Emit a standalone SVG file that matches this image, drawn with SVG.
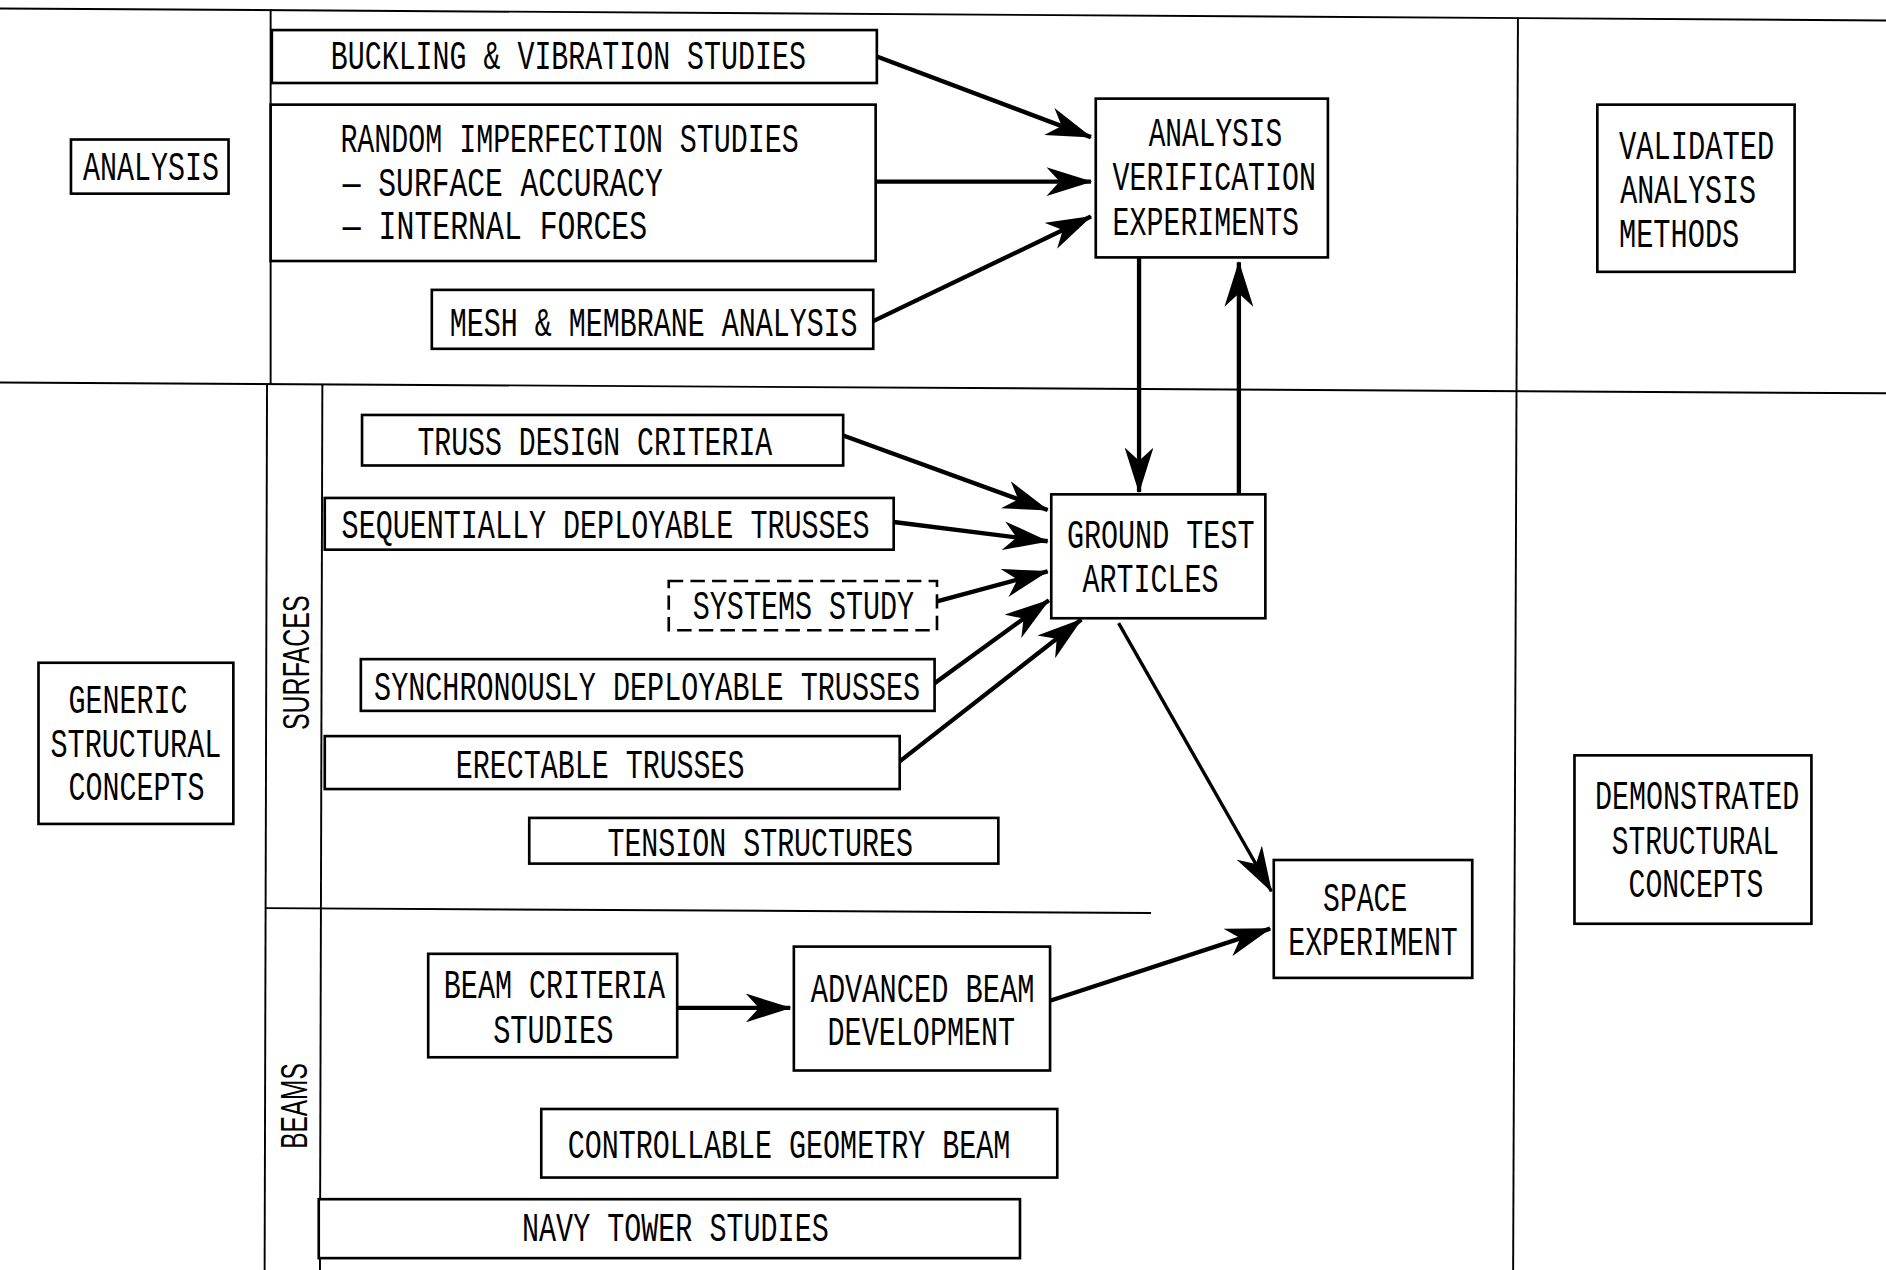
<svg xmlns="http://www.w3.org/2000/svg" width="1886" height="1270" viewBox="0 0 1886 1270">
<style>
.frame{stroke:#000;stroke-width:1.6;fill:none}
.box{stroke:#000;stroke-width:2.2;fill:#fff}
.dash{stroke:#000;stroke-width:2.2;fill:#fff;stroke-dasharray:12 6}
.t{font-family:"Liberation Mono","DejaVu Sans Mono",monospace;font-size:34px;fill:#000}
.r{font-family:"Liberation Sans","DejaVu Sans",sans-serif;font-size:30px;fill:#000}
.a{stroke:#000;stroke-width:3.6;fill:none;marker-end:url(#ah)}
.a2{stroke:#000;stroke-width:2.8;fill:none;marker-end:url(#ah)}
</style>
<defs>
<marker id="ah" markerUnits="userSpaceOnUse" viewBox="0 0 38 24" refX="37" refY="12" markerWidth="38" markerHeight="24" orient="auto">
<path d="M0,0 L38,12 L0,24 L11,12 Z" fill="#000"/>
</marker>
</defs>
<rect width="1886" height="1270" fill="#fff"/>
<g transform="scale(1.20281)">
<g id="frame">
<line class="frame" x1="0" y1="7" x2="1568" y2="17"/>
<line class="frame" x1="0" y1="318" x2="1568" y2="327"/>
<line class="frame" x1="225" y1="8" x2="225" y2="320"/>
<line class="frame" x1="222" y1="320" x2="220" y2="1056"/>
<line class="frame" x1="268" y1="320" x2="266" y2="1056"/>
<line class="frame" x1="1262" y1="15" x2="1258" y2="1056"/>
<line class="frame" x1="221" y1="755" x2="957" y2="759"/>
<text class="r" transform="translate(257,607) rotate(-90)" textLength="112" lengthAdjust="spacingAndGlyphs">SURFACES</text>
<text class="r" transform="translate(255,955) rotate(-90)" textLength="71" lengthAdjust="spacingAndGlyphs">BEAMS</text>
</g>
<g id="n-analysis">
<rect class="box" x="59" y="116" width="131" height="45"/>
<text class="t" x="69" y="150" textLength="113" lengthAdjust="spacingAndGlyphs">ANALYSIS</text>
</g>
<g id="n-buckling">
<rect class="box" x="226" y="25" width="503" height="44"/>
<text class="t" x="275" y="57" textLength="395" lengthAdjust="spacingAndGlyphs">BUCKLING &amp; VIBRATION STUDIES</text>
</g>
<g id="n-random">
<rect class="box" x="225" y="87" width="503" height="130"/>
<text class="t" x="283" y="126" textLength="381" lengthAdjust="spacingAndGlyphs">RANDOM IMPERFECTION STUDIES</text>
<text class="t" x="285" y="163" textLength="266" lengthAdjust="spacingAndGlyphs">— SURFACE ACCURACY</text>
<text class="t" x="285" y="199" textLength="253" lengthAdjust="spacingAndGlyphs">— INTERNAL FORCES</text>
</g>
<g id="n-mesh">
<rect class="box" x="359" y="241" width="367" height="49"/>
<text class="t" x="374" y="279" textLength="339" lengthAdjust="spacingAndGlyphs">MESH &amp; MEMBRANE ANALYSIS</text>
</g>
<g id="n-ave">
<rect class="box" x="911" y="82" width="193" height="132"/>
<text class="t" x="955" y="121" textLength="111" lengthAdjust="spacingAndGlyphs">ANALYSIS</text>
<text class="t" x="925" y="158" textLength="169" lengthAdjust="spacingAndGlyphs">VERIFICATION</text>
<text class="t" x="925" y="195" textLength="155" lengthAdjust="spacingAndGlyphs">EXPERIMENTS</text>
</g>
<g id="n-validated">
<rect class="box" x="1328" y="87" width="164" height="139"/>
<text class="t" x="1346" y="132" textLength="129" lengthAdjust="spacingAndGlyphs">VALIDATED</text>
<text class="t" x="1347" y="169" textLength="113" lengthAdjust="spacingAndGlyphs">ANALYSIS</text>
<text class="t" x="1346" y="205" textLength="100" lengthAdjust="spacingAndGlyphs">METHODS</text>
</g>
<g id="n-generic">
<rect class="box" x="32" y="551" width="162" height="134"/>
<text class="t" x="57" y="593" textLength="99" lengthAdjust="spacingAndGlyphs">GENERIC</text>
<text class="t" x="42" y="629" textLength="142" lengthAdjust="spacingAndGlyphs">STRUCTURAL</text>
<text class="t" x="57" y="665" textLength="113" lengthAdjust="spacingAndGlyphs">CONCEPTS</text>
</g>
<g id="n-truss">
<rect class="box" x="301" y="345" width="400" height="42"/>
<text class="t" x="347" y="378" textLength="295" lengthAdjust="spacingAndGlyphs">TRUSS DESIGN CRITERIA</text>
</g>
<g id="n-seq">
<rect class="box" x="270" y="414" width="473" height="43"/>
<text class="t" x="284" y="447" textLength="439" lengthAdjust="spacingAndGlyphs">SEQUENTIALLY DEPLOYABLE TRUSSES</text>
</g>
<g id="n-systems">
<rect class="dash" x="556" y="483" width="223" height="41"/>
<text class="t" x="576" y="515" textLength="184" lengthAdjust="spacingAndGlyphs">SYSTEMS STUDY</text>
</g>
<g id="n-sync">
<rect class="box" x="300" y="548" width="477" height="43"/>
<text class="t" x="311" y="582" textLength="454" lengthAdjust="spacingAndGlyphs">SYNCHRONOUSLY DEPLOYABLE TRUSSES</text>
</g>
<g id="n-erect">
<rect class="box" x="270" y="612" width="478" height="44"/>
<text class="t" x="379" y="647" textLength="240" lengthAdjust="spacingAndGlyphs">ERECTABLE TRUSSES</text>
</g>
<g id="n-tension">
<rect class="box" x="440" y="680" width="390" height="38"/>
<text class="t" x="505" y="712" textLength="254" lengthAdjust="spacingAndGlyphs">TENSION STRUCTURES</text>
</g>
<g id="n-gta">
<rect class="box" x="874" y="411" width="178" height="103"/>
<text class="t" x="887" y="456" textLength="156" lengthAdjust="spacingAndGlyphs">GROUND TEST</text>
<text class="t" x="900" y="492" textLength="113" lengthAdjust="spacingAndGlyphs">ARTICLES</text>
</g>
<g id="n-demo">
<rect class="box" x="1309" y="628" width="197" height="140"/>
<text class="t" x="1326" y="673" textLength="170" lengthAdjust="spacingAndGlyphs">DEMONSTRATED</text>
<text class="t" x="1340" y="710" textLength="139" lengthAdjust="spacingAndGlyphs">STRUCTURAL</text>
<text class="t" x="1354" y="746" textLength="112" lengthAdjust="spacingAndGlyphs">CONCEPTS</text>
</g>
<g id="n-space">
<rect class="box" x="1059" y="715" width="165" height="98"/>
<text class="t" x="1100" y="757" textLength="70" lengthAdjust="spacingAndGlyphs">SPACE</text>
<text class="t" x="1071" y="794" textLength="141" lengthAdjust="spacingAndGlyphs">EXPERIMENT</text>
</g>
<g id="n-beamcrit">
<rect class="box" x="356" y="793" width="207" height="86"/>
<text class="t" x="369" y="830" textLength="184" lengthAdjust="spacingAndGlyphs">BEAM CRITERIA</text>
<text class="t" x="410" y="867" textLength="100" lengthAdjust="spacingAndGlyphs">STUDIES</text>
</g>
<g id="n-advbeam">
<rect class="box" x="660" y="787" width="213" height="103"/>
<text class="t" x="674" y="833" textLength="186" lengthAdjust="spacingAndGlyphs">ADVANCED BEAM</text>
<text class="t" x="688" y="869" textLength="156" lengthAdjust="spacingAndGlyphs">DEVELOPMENT</text>
</g>
<g id="n-cgb">
<rect class="box" x="450" y="922" width="429" height="57"/>
<text class="t" x="472" y="963" textLength="368" lengthAdjust="spacingAndGlyphs">CONTROLLABLE GEOMETRY BEAM</text>
</g>
<g id="n-navy">
<rect class="box" x="265" y="997" width="583" height="49"/>
<text class="t" x="434" y="1032" textLength="255" lengthAdjust="spacingAndGlyphs">NAVY TOWER STUDIES</text>
</g>
<g id="connectors">
<line class="a" x1="729" y1="47" x2="907" y2="114"/>
<line class="a" x1="728" y1="151" x2="907" y2="151"/>
<line class="a" x1="726" y1="267" x2="907" y2="180"/>
<line class="a" x1="947" y1="214" x2="947" y2="409"/>
<line class="a" x1="1030" y1="411" x2="1030" y2="218"/>
<line class="a" x1="701" y1="362" x2="871" y2="424"/>
<line class="a" x1="743" y1="434" x2="871" y2="450"/>
<line class="a" x1="779" y1="500" x2="871" y2="475"/>
<line class="a" x1="777" y1="568" x2="872" y2="499"/>
<line class="a" x1="748" y1="633" x2="899" y2="515"/>
<line class="a2" x1="930" y1="518" x2="1057" y2="741"/>
<line class="a" x1="563" y1="838" x2="657" y2="838"/>
<line class="a" x1="873" y1="832" x2="1056" y2="772"/>
</g>
</g>
</svg>
